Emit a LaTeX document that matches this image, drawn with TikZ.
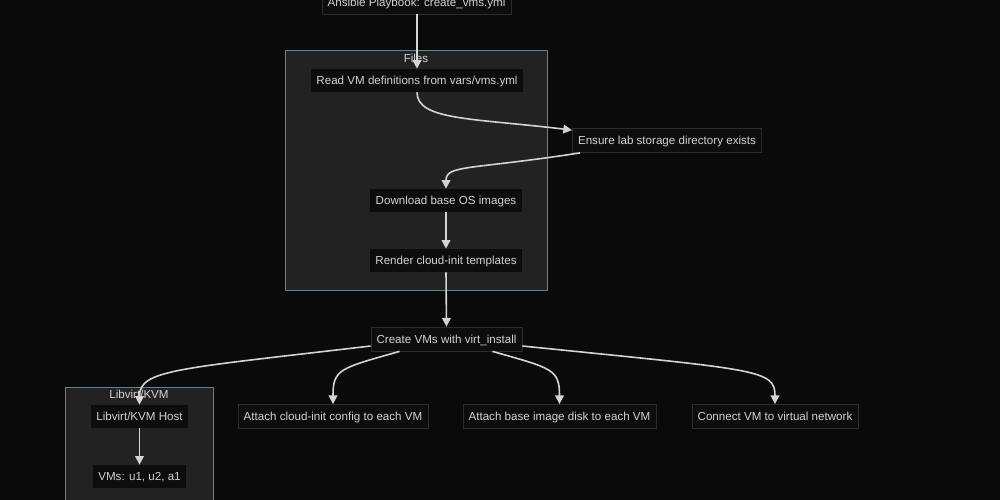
\documentclass[tikz,border=0pt]{standalone}
\usepackage{fontspec}
\setmainfont{Liberation Sans}
\usetikzlibrary{arrows.meta,calc}
\definecolor{bg}{HTML}{0A0A0A}
\definecolor{clfill}{HTML}{222222}
\definecolor{clline}{HTML}{5C8494}
\definecolor{nfill}{HTML}{0D0D0D}
\definecolor{nline}{HTML}{2C2C2C}
\definecolor{txt}{HTML}{D2D2D2}
\definecolor{edgec}{HTML}{D4D4D4}
\tikzset{
  every node/.style={font=\fontsize{8.7pt}{10pt}\selectfont, text=txt},
  inbox/.style={fill=nfill, draw=none, inner xsep=4.2pt, inner ysep=0pt, minimum height=17.3pt, text depth=1.2pt, text height=7.8pt},
  outbox/.style={fill=nfill, draw=nline, line width=0.6pt, inner xsep=4.2pt, inner ysep=0pt, minimum height=18pt, text depth=1.2pt, text height=7.8pt},
  cluster/.style={fill=clfill, draw=clline, line width=0.6pt},
  cllabel/.style={inner sep=0pt},
  edge/.style={draw=edgec, line width=1.2pt, -{Triangle[length=6.5pt,width=6.5pt]}},
}
\begin{document}
\begin{tikzpicture}[x=0.75pt,y=-0.75pt]
\fill[bg] (0,0) rectangle (1000,500);
\useasboundingbox (0,0) rectangle (1000,500);
% clusters
\draw[cluster] (285.5,50.5) rectangle (547.5,290.5);
\node[cllabel] (lfiles) at (416,58) {Files};
\draw[cluster] (65.5,387.5) rectangle (213.5,520);
\node[cllabel] (lkvm) at (139,394) {Libvirt/KVM};
% nodes
\node[outbox] (ans) at (416.5,2) {Ansible Playbook: create\_vms.yml};
\node[inbox] (rv) at (417,80.5) {Read VM definitions from vars/vms.yml};
\node[outbox] (en) at (667,140.5) {Ensure lab storage directory exists};
\node[inbox] (dl) at (446,200.5) {Download base OS images};
\node[inbox] (rd) at (446,260.5) {Render cloud-init templates};
\node[outbox] (cv) at (446.5,339) {Create VMs with virt\_install};
\node[inbox] (lh) at (139.5,416.5) {Libvirt/KVM Host};
\node[inbox] (vm) at (139.5,476.5) {VMs: u1, u2, a1};
\node[outbox] (ac) at (333,416.5) {Attach cloud-init config to each VM};
\node[outbox] (ab) at (559.5,416.5) {Attach base image disk to each VM};
\node[outbox] (cn) at (775,416.5) {Connect VM to virtual network};
% edges
\draw[edge] (ans.south -| rv.north) -- (rv.north);
\draw[edge] (rv.south) .. controls +(0,28) and +(-100,-12) .. ($(en.north west)+(0,2)$);
\draw[edge] ($(en.south west)+(8,0)$) .. controls +(-110,17) and +(0,-24) .. (dl.north);
\draw[edge] (dl.south) -- (rd.north);
\draw[edge] (rd.south) -- (cv.north);
\draw[edge] ($(cv.west)+(0,7)$) .. controls +(-195,23) and +(0,-35) .. (lh.north);
\draw[edge] (lh.south) -- (vm.north);
\draw[edge] ($(cv.south west)+(29,0)$) .. controls +(-60,17) and +(0,-35) .. (ac.north);
\draw[edge] ($(cv.south east)+(-30,0)$) .. controls +(60,17) and +(0,-35) .. (ab.north);
\draw[edge] ($(cv.east)+(0,7)$) .. controls +(235,24) and +(0,-35) .. (cn.north);
\end{tikzpicture}
\end{document}
